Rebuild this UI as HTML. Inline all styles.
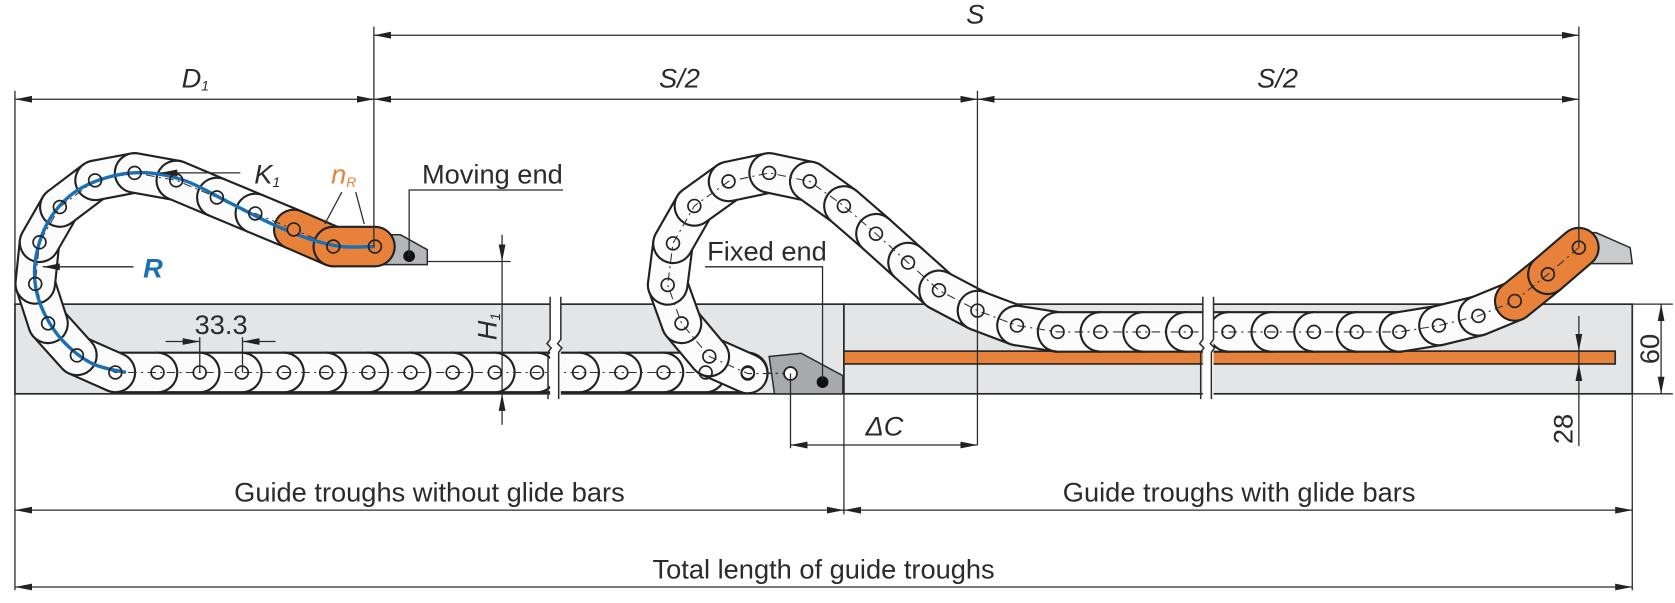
<!DOCTYPE html>
<html><head><meta charset="utf-8">
<style>
html,body{margin:0;padding:0;background:#fff;}
svg{display:block;}
text{font-family:"Liberation Sans",sans-serif;fill:#2b2b2b;}
</style></head>
<body>
<svg id="s" xmlns="http://www.w3.org/2000/svg" width="1675" height="603" viewBox="0 0 1568 565" preserveAspectRatio="none">
<defs>
<marker id="a" viewBox="0 0 16 8" refX="16" refY="4" markerWidth="16" markerHeight="8" markerUnits="userSpaceOnUse" orient="auto-start-reverse"><path d="M0,0.8 L16,4 L0,7.2z" fill="#222"/></marker>
</defs>
<g stroke="#2b2b2b" stroke-width="1.6">
<rect x="14" y="285" width="776" height="84" fill="#e4e5e7"/>
<rect x="790" y="285" width="738" height="84" fill="#e4e5e7"/>
<rect x="790" y="329" width="722" height="12" fill="#e8823a"/>
</g>
<g id="chains"></g>
<g fill="#fff" stroke="none">
<rect x="515" y="278" width="10" height="96"/>
<rect x="1126" y="278" width="10" height="96"/>
</g>
<g stroke="#2b2b2b" stroke-width="1.4" fill="none">
<path d="M515,278 V318 l-3,4 l4,4 l-3,4 V374 M525,278 V318 l-3,4 l4,4 l-3,4 V374"/>
<path d="M1126,278 V318 l-3,4 l4,4 l-3,4 V374 M1136,278 V318 l-3,4 l4,4 l-3,4 V374"/>
</g>
<g stroke="#2b2b2b" stroke-width="1.2" fill="none">
<path d="M350,25 V231 M1478,25 V232 M14,85 V285 M915,85 V417 M740,350 V420 M14,369 V553 M1528,369 V553 M790,369 V482 M1528,285 H1566 M1528,369 H1566 M400,245 H478 M187,316 V349 M227,316 V349 M383,240 V178 H527 M770,355 V250 H660"/>
<path d="M350,33 H1478" marker-start="url(#a)" marker-end="url(#a)"/>
<path d="M14,93 H350" marker-start="url(#a)" marker-end="url(#a)"/>
<path d="M350,93 H915" marker-start="url(#a)" marker-end="url(#a)"/>
<path d="M915,93 H1478" marker-start="url(#a)" marker-end="url(#a)"/>
<path d="M14,478 H790" marker-start="url(#a)" marker-end="url(#a)"/>
<path d="M790,478 H1528" marker-start="url(#a)" marker-end="url(#a)"/>
<path d="M14,550 H1528" marker-start="url(#a)" marker-end="url(#a)"/>
<path d="M740,417 H915" marker-start="url(#a)" marker-end="url(#a)"/>
<path d="M1555,285 V369" marker-start="url(#a)" marker-end="url(#a)"/>
<path d="M470,220 V245" marker-end="url(#a)"/>
<path d="M470,398 V369" marker-end="url(#a)"/>
<path d="M470,245 V369"/>
<path d="M1478,296 V329" marker-end="url(#a)"/>
<path d="M1478,418 V341" marker-end="url(#a)"/>
<path d="M1478,329 V341"/>
<path d="M155,320 H187" marker-end="url(#a)"/>
<path d="M258,320 H227" marker-end="url(#a)"/>
<path d="M225,162 H150" marker-end="url(#a)"/>
<path d="M125,250 H40" marker-end="url(#a)"/>
<path d="M320,180 L304,210 M333,180 L341,210" />
</g>
<g font-size="25.5">
<text x="913" y="22" text-anchor="middle" font-style="italic">S</text>
<text x="170" y="82" font-style="italic">D<tspan font-size="13" dy="3">1</tspan></text>
<text x="636" y="82" text-anchor="middle" font-style="italic">S/2</text>
<text x="1196" y="82" text-anchor="middle" font-style="italic">S/2</text>
<text x="238" y="172" font-style="italic">K<tspan font-size="13" dy="3">1</tspan></text>
<text x="310" y="172" font-style="italic" style="fill:#e8823a">n<tspan font-size="13" dy="3">R</tspan></text>
<text x="395" y="172">Moving end</text>
<text x="134" y="260" font-weight="bold" font-style="italic" style="fill:#1a6fb5">R</text>
<text x="207" y="313" text-anchor="middle">33.3</text>
<text x="662" y="244">Fixed end</text>
<text x="828" y="408" text-anchor="middle" font-style="italic">ΔC</text>
<text x="402" y="470" text-anchor="middle">Guide troughs without glide bars</text>
<text x="1160" y="470" text-anchor="middle">Guide troughs with glide bars</text>
<text x="771" y="542" text-anchor="middle">Total length of guide troughs</text>
<text transform="translate(465,306) rotate(-90)" text-anchor="middle" font-style="italic">H<tspan font-size="13" dy="3">1</tspan></text>
<text transform="translate(1553,327) rotate(-90)" text-anchor="middle">60</text>
<text transform="translate(1472,402) rotate(-90)" text-anchor="middle">28</text>
</g>
</svg>
<script>
(function(){
var NS="http://www.w3.org/2000/svg";
var g=document.getElementById("chains");
function el(t,a){var e=document.createElementNS(NS,t);for(var k in a)e.setAttribute(k,a[k]);g.appendChild(e);return e;}
el("path",{d:"M351,220 L375,220 L400,234 L400,248 L330,248 Z",fill:"#b4b6b9",stroke:"#2b2b2b","stroke-width":1.4});
el("path",{d:"M720,334 L750,331 L789,352 L789,369 L725,369 Z",fill:"#a7a9ac",stroke:"#2b2b2b","stroke-width":1.4});
el("path",{d:"M1478,218 L1494,218 L1526,232 L1528,247 L1490,247 Z",fill:"#c9cacc",stroke:"#2b2b2b","stroke-width":1.4});
var L=[[351,231],[312,231],[275,215],[239,200],[203,185],[165,169],[126,162],[89,169],[56,194],[37,227],[33,266],[45,303],[72,333],[108,349]];
for(var i=1;i<=15;i++)L.push([108+39.47*i,349]);
L.push([740,350]);
var R=[[740,350],[700,350],[664,334],[638,303],[625,267],[630,228],[650,193],[682,170],[720,162],[758,170],[790,193],[820,219],[850,246],[879,272],[915,291],[952,305]];
for(var i=0;i<=8;i++)R.push([990+40*i,311]);
R=R.concat([[1347,305],[1384,296],[1418,282],[1449,257],[1478,232]]);
function chain(P,orangeFrom){
  var n=P.length;
  for(var i=0;i<n-1;i++){
    var a=P[i],b=P[i+1];
    if(i==0 && a[0]==740) continue;
    var col=(i>=orangeFrom)?"#e8823a":"#fcfcfc";
    var d="M"+a[0]+","+a[1]+" L"+b[0]+","+b[1];
    el("path",{d:d,stroke:"#222","stroke-width":39,"stroke-linecap":"round",fill:"none"});
    el("path",{d:d,stroke:col,"stroke-width":35,"stroke-linecap":"round",fill:"none"});
  }
  var d="M"+P.map(function(p){return p[0]+","+p[1]}).join(" L");
  el("path",{d:d,stroke:"#333","stroke-width":1,fill:"none","stroke-dasharray":"8 4 2 4"});
}
var Lr=L.slice().reverse();
chain(Lr,Lr.length-3);
chain(R,R.length-3);
// smooth blue line (catmull-rom)
var bl=[[118,349],[85,340],[55,315],[36,280],[33,245],[45,208],[70,180],[105,165],[140,162],[175,170],[215,190],[255,210],[290,224],[320,231],[351,231]];
var d="M"+bl[0][0]+","+bl[0][1];
for(var i=0;i<bl.length-1;i++){
  var p0=bl[Math.max(0,i-1)],p1=bl[i],p2=bl[i+1],p3=bl[Math.min(bl.length-1,i+2)];
  var c1=[p1[0]+(p2[0]-p0[0])/6,p1[1]+(p2[1]-p0[1])/6],c2=[p2[0]-(p3[0]-p1[0])/6,p2[1]-(p3[1]-p1[1])/6];
  d+=" C"+c1.join(",")+" "+c2.join(",")+" "+p2.join(",");
}
el("path",{d:d,stroke:"#1a6fb5","stroke-width":3.2,fill:"none"});
function pins(P,orangeDot){
  P.forEach(function(p,i){
    el("circle",{cx:p[0],cy:p[1],r:6,fill:(orangeDot(i)?"#e8823a":"none"),stroke:"#222","stroke-width":1.6});
  });
}
pins(L.filter(function(p){return p[0]!=740}),function(i){return i==2});
pins(R,function(i){return i==R.length-3});
el("circle",{cx:383,cy:240,r:5.5,fill:"#111"});
el("circle",{cx:770,cy:358,r:5.5,fill:"#111"});
el("circle",{cx:740,cy:350,r:6,fill:"#fff",stroke:"#222","stroke-width":1.6});
})();
</script>
</body></html>
